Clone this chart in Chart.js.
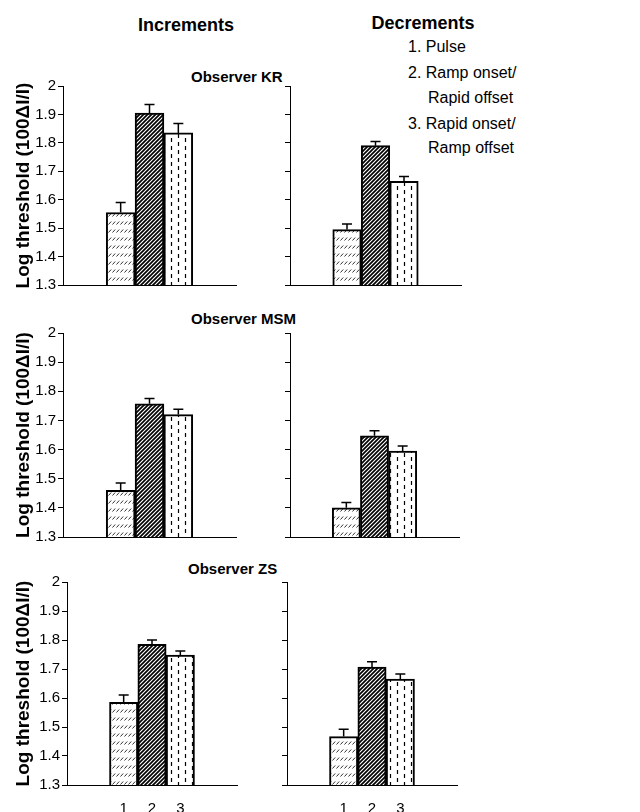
<!DOCTYPE html>
<html>
<head>
<meta charset="utf-8">
<script src="https://cdn.jsdelivr.net/npm/chart.js@4.4.0/dist/chart.umd.min.js"></script>
<style>
  body { margin: 0; background: #fff; font-family: Arial, 'Liberation Sans', sans-serif; }
  #page { position: relative; width: 640px; height: 812px; overflow: hidden; }
  .panel { position: absolute; }
  .txt { position: absolute; white-space: nowrap; color: #000; line-height: 1; transform: translateY(-50%); }
  .mid { transform: translate(-50%, -50%); }
  .b { font-weight: bold; }
</style>
</head>
<body>
<div id="page">
  <div class="txt b mid" style="left:186px; top:25px; font-size:18px;">Increments</div>
  <div class="txt b mid" style="left:423px; top:23px; font-size:18px;">Decrements</div>
  <div class="txt" style="left:408px; top:47px; font-size:16px;">1. Pulse</div>
  <div class="txt" style="left:408px; top:73px; font-size:16px;">2. Ramp onset/</div>
  <div class="txt" style="left:428px; top:98px; font-size:16px;">Rapid offset</div>
  <div class="txt" style="left:408px; top:124px; font-size:16px;">3. Rapid onset/</div>
  <div class="txt" style="left:428px; top:148px; font-size:16px;">Ramp offset</div>
  <div class="txt b" style="left:191px; top:76px; font-size:15px;">Observer KR</div>
  <div class="txt b" style="left:191px; top:318px; font-size:15px;">Observer MSM</div>
  <div class="txt b" style="left:188px; top:568px; font-size:15px;">Observer ZS</div>
</div>
<script>
// conditions (x labels)
const conditions = ['1', '2', '3'];

// log thresholds, increments
const incKR = [1.555, 1.905, 1.835];
const incMSM = [1.46, 1.757, 1.72];
const incZS = [1.585, 1.785, 1.748];
// standard errors, increments
const incKRErr = [0.035, 0.03, 0.033];
const incMSMErr = [0.025, 0.018, 0.018];
const incZSErr = [0.025, 0.015, 0.014];

// log thresholds, decrements
const decKR = [1.495, 1.79, 1.665];
const decMSM = [1.40, 1.647, 1.595];
const decZS = [1.467, 1.707, 1.665];
// standard errors, decrements
const decKRErr = [0.02, 0.015, 0.017];
const decMSMErr = [0.018, 0.018, 0.017];
const decZSErr = [0.025, 0.018, 0.018];

const yTicksMin = 1.3;
const yTicksMax = 2;
const yTitle = 'Log threshold (100\u0394I/I)';

// fill patterns for the three conditions
function makePattern(w, h, draw) {
    const c = document.createElement('canvas');
    c.width = w;
    c.height = h;
    const g = c.getContext('2d');
    g.fillStyle = '#fff';
    g.fillRect(0, 0, w, h);
    draw(g);
    return g.createPattern(c, 'repeat');
}

// short slanted dashes in rows
const pulseFill = makePattern(4, 8, g => {
    g.strokeStyle = '#333';
    g.lineWidth = 1;
    g.beginPath();
    g.moveTo(0.5, 6.5);
    g.lineTo(3.2, 3.5);
    g.stroke();
});

// dense diagonal hatch
const rampOnFill = makePattern(4, 4, g => {
    g.strokeStyle = '#000';
    g.lineWidth = 1.7;
    g.beginPath();
    g.moveTo(0, 4); g.lineTo(4, 0);
    g.moveTo(-1, 1); g.lineTo(1, -1);
    g.moveTo(3, 5); g.lineTo(5, 3);
    g.stroke();
});

// vertical dashes
const rampOffFill = makePattern(14, 8, g => {
    g.strokeStyle = '#000';
    g.lineWidth = 1.2;
    g.beginPath();
    g.moveTo(3.5, 0); g.lineTo(3.5, 4);
    g.moveTo(10.5, 4); g.lineTo(10.5, 8);
    g.stroke();
});

const fills = [pulseFill, rampOnFill, rampOffFill];

// draws the upper error bar on every bar
const errorBars = {
    id: 'errorBars',
    afterDatasetsDraw(chart, args, opts) {
        const ctx = chart.ctx;
        const yScale = chart.scales.y;
        const meta = chart.getDatasetMeta(0);
        const values = chart.data.datasets[0].data;
        ctx.save();
        ctx.strokeStyle = '#000';
        ctx.lineWidth = 1.5;
        meta.data.forEach((bar, i) => {
            const top = yScale.getPixelForValue(values[i].y + opts.errors[i]);
            ctx.beginPath();
            ctx.moveTo(bar.x, bar.y);
            ctx.lineTo(bar.x, top);
            ctx.moveTo(bar.x - 5, top);
            ctx.lineTo(bar.x + 5, top);
            ctx.stroke();
        });
        ctx.restore();
    }
};

const panels = [
    { values: incKR, errors: incKRErr, left: 0, top: 74, width: 240, height: 223, axisW: 63, padR: 4, padB: 12, xH: 0, yLabels: true, xLabels: false },
    { values: decKR, errors: decKRErr, left: 240, top: 74, width: 230, height: 223, axisW: 50, padR: 9, padB: 12, xH: 0, yLabels: false, xLabels: false },
    { values: incMSM, errors: incMSMErr, left: 0, top: 321, width: 240, height: 228, axisW: 63, padR: 4, padB: 12, xH: 0, yLabels: true, xLabels: false },
    { values: decMSM, errors: decMSMErr, left: 240, top: 321, width: 230, height: 228, axisW: 50, padR: 11, padB: 12, xH: 0, yLabels: false, xLabels: false },
    { values: incZS, errors: incZSErr, left: 0, top: 570, width: 240, height: 242, axisW: 67, padR: 3, padB: 0, xH: 27, yLabels: true, xLabels: true },
    { values: decZS, errors: decZSErr, left: 240, top: 570, width: 230, height: 242, axisW: 47, padR: 13, padB: 0, xH: 27, yLabels: false, xLabels: true }
];

const page = document.getElementById('page');

panels.forEach(p => {
    const box = document.createElement('div');
    box.className = 'panel';
    box.style.left = p.left + 'px';
    box.style.top = p.top + 'px';
    box.style.width = p.width + 'px';
    box.style.height = p.height + 'px';
    const canvas = document.createElement('canvas');
    box.appendChild(canvas);
    page.appendChild(box);

    new Chart(canvas, {
        type: 'bar',
        data: {
            datasets: [{
                data: p.values.map((v, i) => ({ x: i + 2, y: v })),
                backgroundColor: fills,
                borderColor: '#000',
                borderWidth: 2,
                borderSkipped: false,
                barPercentage: 1,
                categoryPercentage: 1
            }]
        },
        options: {
            responsive: true,
            maintainAspectRatio: false,
            animation: false,
            layout: {
                padding: { top: 12, bottom: p.padB, left: 0, right: p.padR }
            },
            plugins: {
                legend: { display: false },
                tooltip: { enabled: false },
                errorBars: { errors: p.errors }
            },
            scales: {
                x: {
                    type: 'linear',
                    min: 0,
                    max: 6,
                    offset: false,
                    grid: { display: false, drawTicks: false },
                    border: { display: true, color: '#000', width: 1 },
                    afterBuildTicks: s => {
                        s.ticks = conditions.map((c, i) => ({ value: i + 2 }));
                    },
                    ticks: {
                        display: p.xLabels,
                        color: '#000',
                        font: { size: 15 },
                        padding: 15,
                        autoSkip: false,
                        maxRotation: 0,
                        callback: v => conditions[v - 2]
                    },
                    afterFit: s => { s.height = p.xH; }
                },
                y: {
                    min: yTicksMin,
                    max: yTicksMax,
                    beginAtZero: false,
                    ticks: {
                        stepSize: 0.1,
                        color: '#000',
                        font: { size: 15 },
                        padding: 2,
                        callback: v => p.yLabels ? String(Math.round(v * 10) / 10) : ''
                    },
                    grid: { drawOnChartArea: false, drawTicks: true, tickLength: 5, color: '#000' },
                    border: { display: true, color: '#000', width: 1 },
                    title: {
                        display: p.yLabels,
                        text: yTitle,
                        color: '#000',
                        font: { size: 19, weight: 'bold' },
                        padding: { top: 12, bottom: 0 }
                    },
                    afterFit: s => { s.width = p.axisW; }
                }
            }
        },
        plugins: [errorBars]
    });
});
</script>
</body>
</html>
